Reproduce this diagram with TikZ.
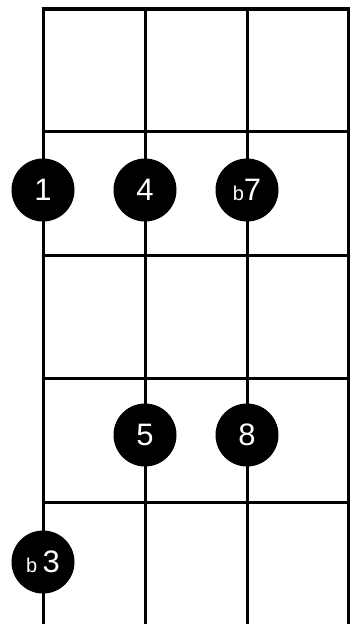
\documentclass[tikz,border=0pt]{standalone}
\usepackage{fontspec}
\setmainfont{Liberation Sans}
\usetikzlibrary{positioning}
\tikzset{
  fretline/.style={line width=3pt,draw=black},
  nutline/.style={line width=4pt,draw=black},
  stringline/.style={line width=3pt,draw=black},
  notedot/.style={circle,fill=black,text=white,minimum size=63pt,
    inner sep=0pt,font=\fontsize{31}{31}\selectfont},
}
\newcommand{\flatsign}{{\fontsize{20}{20}\selectfont b}}

\begin{document}
\begin{tikzpicture}[x=1pt,y=-1pt]
  \useasboundingbox (0,0) rectangle (352,624);
  % strings
  \draw[stringline] (43,9) -- (43,624);
  \draw[stringline] (145,9) -- (145,624);
  \draw[stringline] (247,9) -- (247,624);
  \draw[stringline] (348,9) -- (348,624);
  % nut and frets
  \draw[nutline] (41.5,9) -- (349.5,9);
  \draw[fretline] (43,131) -- (348,131);
  \draw[fretline] (43,255) -- (348,255);
  \draw[fretline] (43,378) -- (348,378);
  \draw[fretline] (43,502) -- (348,502);
  % notes
  \node[notedot] (root)   at (43,190)  {1};
  \node[notedot] (fourth) at (145,190) {4};
  \node[notedot] (flatseventh) at (247,190) {\flatsign7};
  \node[notedot] (fifth)  at (145,435) {5};
  \node[notedot] (octave) at (247,435) {8};
  \node[notedot] (flatthird) at (43,562) {\flatsign\,3};
\end{tikzpicture}
\end{document}
